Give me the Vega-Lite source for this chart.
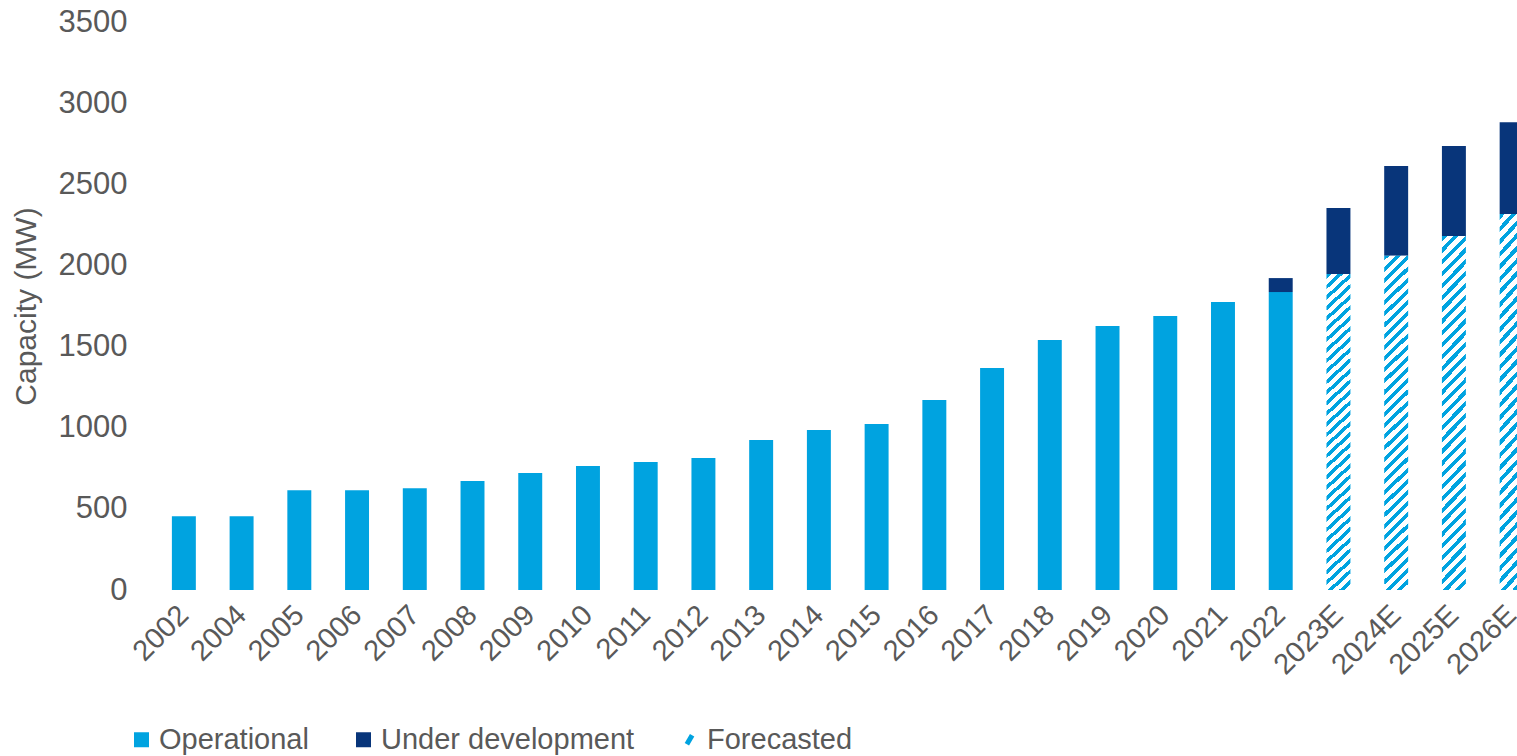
{
  "$schema": "https://vega.github.io/schema/vega-lite/v6.json",
  "width": 1362,
  "height": 568,
  "autosize": {"type": "none"},
  "padding": {"left": 155, "top": 22, "right": 0, "bottom": 166},
  "background": "white",
  "config": {
    "view": {"stroke": null},
    "font": "Liberation Sans",
    "axis": {"labelColor": "#595959", "titleColor": "#595959", "labelFont": "Liberation Sans", "titleFont": "Liberation Sans"},
    "legend": {"labelFont": "Liberation Sans"}
  },
  "data": {
    "values": [
      {"year": "2002", "series": "Operational", "value": 455},
      {"year": "2004", "series": "Operational", "value": 455},
      {"year": "2005", "series": "Operational", "value": 615},
      {"year": "2006", "series": "Operational", "value": 615},
      {"year": "2007", "series": "Operational", "value": 627},
      {"year": "2008", "series": "Operational", "value": 672},
      {"year": "2009", "series": "Operational", "value": 721},
      {"year": "2010", "series": "Operational", "value": 764},
      {"year": "2011", "series": "Operational", "value": 789},
      {"year": "2012", "series": "Operational", "value": 813},
      {"year": "2013", "series": "Operational", "value": 924},
      {"year": "2014", "series": "Operational", "value": 986},
      {"year": "2015", "series": "Operational", "value": 1023},
      {"year": "2016", "series": "Operational", "value": 1171},
      {"year": "2017", "series": "Operational", "value": 1368},
      {"year": "2018", "series": "Operational", "value": 1540},
      {"year": "2019", "series": "Operational", "value": 1627},
      {"year": "2020", "series": "Operational", "value": 1688},
      {"year": "2021", "series": "Operational", "value": 1775},
      {"year": "2022", "series": "Operational", "value": 1836},
      {"year": "2022", "series": "Under development", "value": 86},
      {"year": "2023E", "series": "Forecasted", "value": 1947},
      {"year": "2023E", "series": "Under development", "value": 407},
      {"year": "2024E", "series": "Forecasted", "value": 2060},
      {"year": "2024E", "series": "Under development", "value": 552},
      {"year": "2025E", "series": "Forecasted", "value": 2181},
      {"year": "2025E", "series": "Under development", "value": 555},
      {"year": "2026E", "series": "Forecasted", "value": 2317},
      {"year": "2026E", "series": "Under development", "value": 566}
    ]
  },
  "encoding": {
    "x": {
      "field": "year",
      "type": "nominal",
      "sort": null,
      "scale": {"range": [0, 1385.5], "paddingInner": 0.585, "paddingOuter": 0.2925},
      "axis": {"title": null, "labelAngle": -45, "labelFontSize": 29, "domain": false, "ticks": false, "labelPadding": 10, "labelOffset": -10}
    },
    "y": {
      "field": "value",
      "type": "quantitative",
      "stack": "zero",
      "scale": {"domain": [0, 3500], "nice": false},
      "axis": {
        "title": "Capacity (MW)",
        "values": [0, 500, 1000, 1500, 2000, 2500, 3000, 3500],
        "format": "d",
        "grid": false,
        "domain": false,
        "ticks": false,
        "labelPadding": 28,
        "labelFontSize": 31,
        "titleFontSize": 30,
        "titleFontWeight": "normal",
        "titlePadding": 17
      }
    }
  },
  "layer": [
    {
      "mark": {"type": "bar"},
      "encoding": {
        "color": {
          "field": "series",
          "type": "nominal",
          "scale": {"domain": ["Operational", "Under development", "Forecasted"], "range": ["#00A3E0", "#08357A", "#00A3E0"]},
          "legend": {
            "title": null,
            "orient": "none",
            "legendX": -28,
            "legendY": 703,
            "padding": 0,
            "direction": "horizontal",
            "labelFontSize": 29,
            "labelColor": "#595959",
            "labelLimit": 500,
            "symbolType": "square",
            "symbolSize": 225,
            "symbolStrokeWidth": 0,
            "columnPadding": 40,
            "labelOffset": 3,
            "encode": {
              "symbols": {
                "update": {
                  "shape": {"signal": "datum.value === 'Forecasted' ? 'M-0.35,0.6L0.35,-0.6' : 'square'"},
                  "stroke": {"signal": "datum.value === 'Forecasted' ? '#00A3E0' : 'transparent'"},
                  "strokeWidth": {"signal": "datum.value === 'Forecasted' ? 5 : 0"}
                }
              }
            }
          }
        },
        "order": {"field": "series", "sort": "ascending"},
        "fillOpacity": {"condition": {"test": "datum.series === 'Forecasted'", "value": 0}, "value": 1}
      }
    },
    {
      "transform": [{"filter": "datum.series === 'Forecasted'"}],
      "mark": {
        "type": "bar",
        "fill": {
          "gradient": "linear",
          "x1": 0, "y1": 0, "x2": 0.0741, "y2": 1.0645,
          "stops": [
            {"offset": 0, "color": "#00A3E0"}, {"offset": 0.0140625, "color": "#00A3E0"}, {"offset": 0.0140625, "color": "#FFFFFF"}, {"offset": 0.03125, "color": "#FFFFFF"},
            {"offset": 0.03125, "color": "#00A3E0"}, {"offset": 0.0453125, "color": "#00A3E0"}, {"offset": 0.0453125, "color": "#FFFFFF"}, {"offset": 0.0625, "color": "#FFFFFF"},
            {"offset": 0.0625, "color": "#00A3E0"}, {"offset": 0.0765625, "color": "#00A3E0"}, {"offset": 0.0765625, "color": "#FFFFFF"}, {"offset": 0.09375, "color": "#FFFFFF"},
            {"offset": 0.09375, "color": "#00A3E0"}, {"offset": 0.1078125, "color": "#00A3E0"}, {"offset": 0.1078125, "color": "#FFFFFF"}, {"offset": 0.125, "color": "#FFFFFF"},
            {"offset": 0.125, "color": "#00A3E0"}, {"offset": 0.1390625, "color": "#00A3E0"}, {"offset": 0.1390625, "color": "#FFFFFF"}, {"offset": 0.15625, "color": "#FFFFFF"},
            {"offset": 0.15625, "color": "#00A3E0"}, {"offset": 0.1703125, "color": "#00A3E0"}, {"offset": 0.1703125, "color": "#FFFFFF"}, {"offset": 0.1875, "color": "#FFFFFF"},
            {"offset": 0.1875, "color": "#00A3E0"}, {"offset": 0.2015625, "color": "#00A3E0"}, {"offset": 0.2015625, "color": "#FFFFFF"}, {"offset": 0.21875, "color": "#FFFFFF"},
            {"offset": 0.21875, "color": "#00A3E0"}, {"offset": 0.2328125, "color": "#00A3E0"}, {"offset": 0.2328125, "color": "#FFFFFF"}, {"offset": 0.25, "color": "#FFFFFF"},
            {"offset": 0.25, "color": "#00A3E0"}, {"offset": 0.2640625, "color": "#00A3E0"}, {"offset": 0.2640625, "color": "#FFFFFF"}, {"offset": 0.28125, "color": "#FFFFFF"},
            {"offset": 0.28125, "color": "#00A3E0"}, {"offset": 0.2953125, "color": "#00A3E0"}, {"offset": 0.2953125, "color": "#FFFFFF"}, {"offset": 0.3125, "color": "#FFFFFF"},
            {"offset": 0.3125, "color": "#00A3E0"}, {"offset": 0.3265625, "color": "#00A3E0"}, {"offset": 0.3265625, "color": "#FFFFFF"}, {"offset": 0.34375, "color": "#FFFFFF"},
            {"offset": 0.34375, "color": "#00A3E0"}, {"offset": 0.3578125, "color": "#00A3E0"}, {"offset": 0.3578125, "color": "#FFFFFF"}, {"offset": 0.375, "color": "#FFFFFF"},
            {"offset": 0.375, "color": "#00A3E0"}, {"offset": 0.3890625, "color": "#00A3E0"}, {"offset": 0.3890625, "color": "#FFFFFF"}, {"offset": 0.40625, "color": "#FFFFFF"},
            {"offset": 0.40625, "color": "#00A3E0"}, {"offset": 0.4203125, "color": "#00A3E0"}, {"offset": 0.4203125, "color": "#FFFFFF"}, {"offset": 0.4375, "color": "#FFFFFF"},
            {"offset": 0.4375, "color": "#00A3E0"}, {"offset": 0.4515625, "color": "#00A3E0"}, {"offset": 0.4515625, "color": "#FFFFFF"}, {"offset": 0.46875, "color": "#FFFFFF"},
            {"offset": 0.46875, "color": "#00A3E0"}, {"offset": 0.4828125, "color": "#00A3E0"}, {"offset": 0.4828125, "color": "#FFFFFF"}, {"offset": 0.5, "color": "#FFFFFF"},
            {"offset": 0.5, "color": "#00A3E0"}, {"offset": 0.5140625, "color": "#00A3E0"}, {"offset": 0.5140625, "color": "#FFFFFF"}, {"offset": 0.53125, "color": "#FFFFFF"},
            {"offset": 0.53125, "color": "#00A3E0"}, {"offset": 0.5453125, "color": "#00A3E0"}, {"offset": 0.5453125, "color": "#FFFFFF"}, {"offset": 0.5625, "color": "#FFFFFF"},
            {"offset": 0.5625, "color": "#00A3E0"}, {"offset": 0.5765625, "color": "#00A3E0"}, {"offset": 0.5765625, "color": "#FFFFFF"}, {"offset": 0.59375, "color": "#FFFFFF"},
            {"offset": 0.59375, "color": "#00A3E0"}, {"offset": 0.6078125, "color": "#00A3E0"}, {"offset": 0.6078125, "color": "#FFFFFF"}, {"offset": 0.625, "color": "#FFFFFF"},
            {"offset": 0.625, "color": "#00A3E0"}, {"offset": 0.6390625, "color": "#00A3E0"}, {"offset": 0.6390625, "color": "#FFFFFF"}, {"offset": 0.65625, "color": "#FFFFFF"},
            {"offset": 0.65625, "color": "#00A3E0"}, {"offset": 0.6703125, "color": "#00A3E0"}, {"offset": 0.6703125, "color": "#FFFFFF"}, {"offset": 0.6875, "color": "#FFFFFF"},
            {"offset": 0.6875, "color": "#00A3E0"}, {"offset": 0.7015625, "color": "#00A3E0"}, {"offset": 0.7015625, "color": "#FFFFFF"}, {"offset": 0.71875, "color": "#FFFFFF"},
            {"offset": 0.71875, "color": "#00A3E0"}, {"offset": 0.7328125, "color": "#00A3E0"}, {"offset": 0.7328125, "color": "#FFFFFF"}, {"offset": 0.75, "color": "#FFFFFF"},
            {"offset": 0.75, "color": "#00A3E0"}, {"offset": 0.7640625, "color": "#00A3E0"}, {"offset": 0.7640625, "color": "#FFFFFF"}, {"offset": 0.78125, "color": "#FFFFFF"},
            {"offset": 0.78125, "color": "#00A3E0"}, {"offset": 0.7953125, "color": "#00A3E0"}, {"offset": 0.7953125, "color": "#FFFFFF"}, {"offset": 0.8125, "color": "#FFFFFF"},
            {"offset": 0.8125, "color": "#00A3E0"}, {"offset": 0.8265625, "color": "#00A3E0"}, {"offset": 0.8265625, "color": "#FFFFFF"}, {"offset": 0.84375, "color": "#FFFFFF"},
            {"offset": 0.84375, "color": "#00A3E0"}, {"offset": 0.8578125, "color": "#00A3E0"}, {"offset": 0.8578125, "color": "#FFFFFF"}, {"offset": 0.875, "color": "#FFFFFF"},
            {"offset": 0.875, "color": "#00A3E0"}, {"offset": 0.8890625, "color": "#00A3E0"}, {"offset": 0.8890625, "color": "#FFFFFF"}, {"offset": 0.90625, "color": "#FFFFFF"},
            {"offset": 0.90625, "color": "#00A3E0"}, {"offset": 0.9203125, "color": "#00A3E0"}, {"offset": 0.9203125, "color": "#FFFFFF"}, {"offset": 0.9375, "color": "#FFFFFF"},
            {"offset": 0.9375, "color": "#00A3E0"}, {"offset": 0.9515625, "color": "#00A3E0"}, {"offset": 0.9515625, "color": "#FFFFFF"}, {"offset": 0.96875, "color": "#FFFFFF"},
            {"offset": 0.96875, "color": "#00A3E0"}, {"offset": 0.9828125, "color": "#00A3E0"}, {"offset": 0.9828125, "color": "#FFFFFF"}, {"offset": 1, "color": "#FFFFFF"}
          ]
        }
      },
      "encoding": {}
    }
  ]
}
